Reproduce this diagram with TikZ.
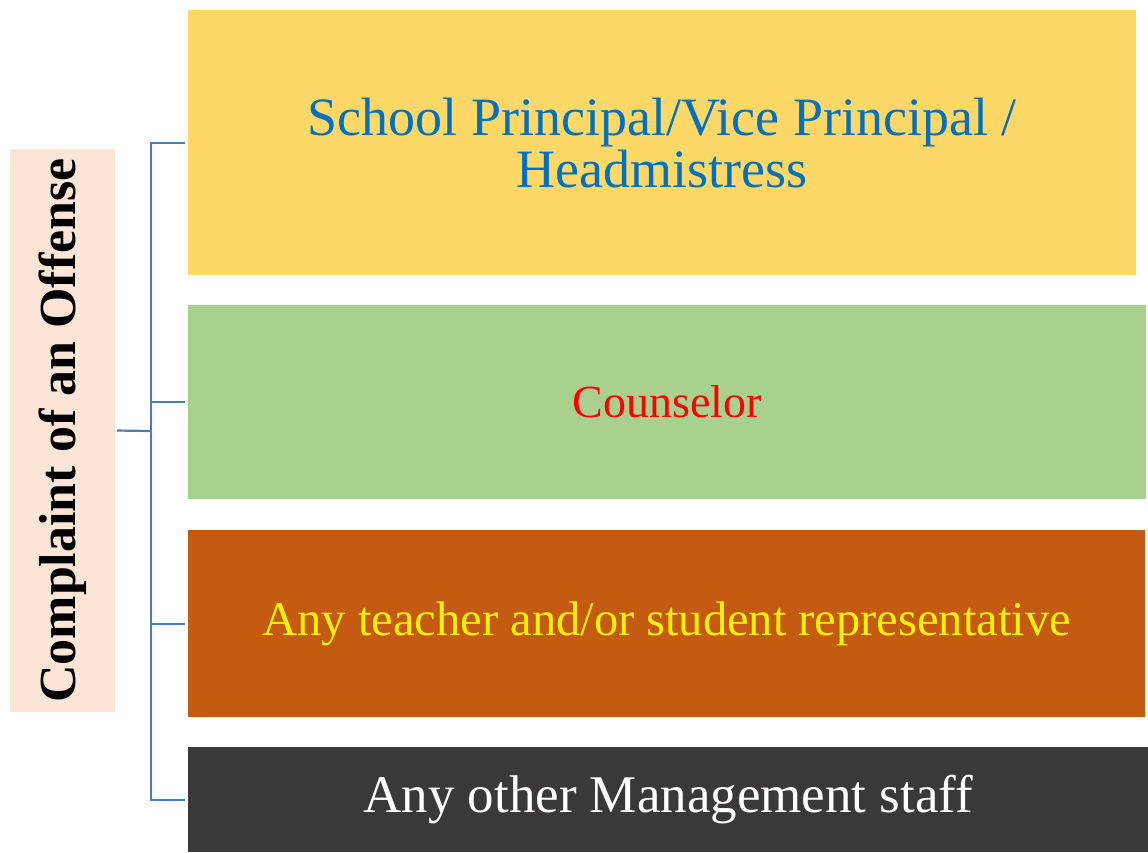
\documentclass[tikz,border=0pt]{standalone}
\usepackage{fontspec}
\setmainfont{Liberation Serif}
\usetikzlibrary{positioning}

\definecolor{gold}{HTML}{FED866}
\definecolor{leaf}{HTML}{A9D18E}
\definecolor{rust}{HTML}{C55A11}
\definecolor{coal}{HTML}{3A3838}
\definecolor{peach}{HTML}{FBE5D6}
\definecolor{steel}{HTML}{4A7EBB}
\definecolor{ocean}{HTML}{0070C0}

\begin{document}
\begin{tikzpicture}[x=1pt, y=-1pt,
					role/.style = {anchor=north west, inner sep=0pt, align=center},
					heading/.style = {fill=peach, rotate=90, inner sep=0pt,
						minimum width=563pt, minimum height=105pt,
						font=\fontsize{52}{56}\selectfont\bfseries},
					link/.style = {draw=steel, line width=2.2pt, shorten >=3pt}
				]

				\useasboundingbox (0,0) rectangle (1148,852);

				% the four boxes
				\node[role, fill=gold, text=ocean, minimum width=948pt, minimum height=265pt,
					font=\fontsize{54}{52}\selectfont]
					(principal) at (188,10) {School Principal/Vice Principal /\\Headmistress};
				\node[role, fill=leaf, text=red, minimum width=958pt, minimum height=194pt,
					font=\fontsize{46}{50}\selectfont]
					(counselor) at (188,305) {Counselor};
				\node[role, fill=rust, text=yellow, minimum width=957pt, minimum height=187pt,
					font=\fontsize{48.5}{52}\selectfont]
					(teacher) at (188,530) {Any teacher and/or student representative};
				\node[role, fill=coal, text=white, minimum width=960pt, minimum height=105pt,
					font=\fontsize{53}{56}\selectfont]
					(staff) at (188,747) {Any other Management staff};

				\node[heading] (offense) at (62.5,430.5) {Complaint of an Offense};

				% bracket
				\coordinate (trunk) at (151,431);
				\draw[link, shorten >=0pt, shorten <=2pt] (offense.south) -- (trunk);
				\foreach \target in {principal, counselor, teacher, staff}
					\draw[link] (trunk) |- (\target.west);
			\end{tikzpicture}
\end{document}
